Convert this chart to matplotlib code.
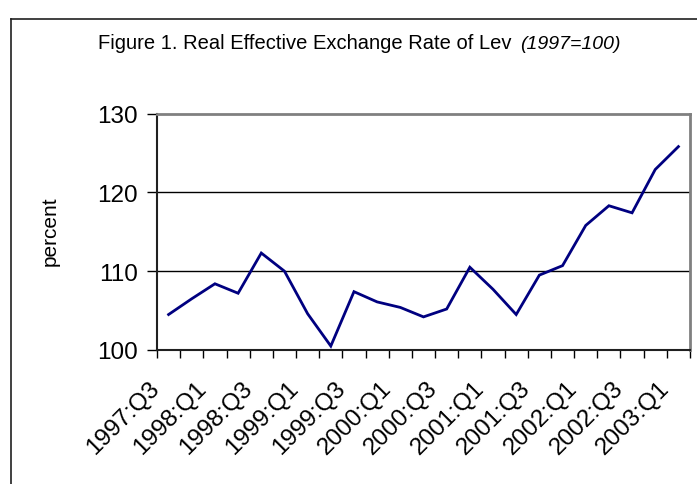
import numpy as np
import matplotlib
matplotlib.use("Agg")
import matplotlib.pyplot as plt
from matplotlib.lines import Line2D
from matplotlib.transforms import ScaledTranslation

# Quarterly REER of the lats (1997=100)
quarters = ["1997:Q3", "1997:Q4", "1998:Q1", "1998:Q2", "1998:Q3", "1998:Q4",
            "1999:Q1", "1999:Q2", "1999:Q3", "1999:Q4", "2000:Q1", "2000:Q2",
            "2000:Q3", "2000:Q4", "2001:Q1", "2001:Q2", "2001:Q3", "2001:Q4",
            "2002:Q1", "2002:Q2", "2002:Q3", "2002:Q4", "2003:Q1"]
reer = [104.5, 106.5, 108.4, 107.2, 112.3, 110.0, 104.6, 100.5, 107.4, 106.1,
        105.4, 104.2, 105.2, 110.5, 107.7, 104.5, 109.5, 110.7, 115.8, 118.3,
        117.4, 122.9, 125.8]
y_ticks = [100, 110, 120, 130]

plt.rcParams["font.family"] = ["Liberation Sans", "DejaVu Sans"]

W, H = 697, 485
fig = plt.figure(figsize=(W / 100, H / 100), dpi=100)
ax = fig.add_axes([157 / W, 1 - 351 / H, 533 / W, 236.5 / H])

x = np.arange(len(quarters))
ax.plot(x, reer, color="#000080", linewidth=2.0, solid_joinstyle="miter")

ax.set_xlim(-0.5, len(quarters) - 0.5)
ax.set_ylim(100, 130)
ax.set_yticks(y_ticks)
ax.set_yticklabels([str(v) for v in y_ticks], fontsize=17.5)
ax.tick_params(axis="y", direction="out", length=7, width=1, pad=7)

# category labels every other quarter, tick marks at category boundaries
ax.set_xticks(x[::2])
ax.set_xticklabels(quarters[::2], rotation=45, ha="right",
                   rotation_mode="anchor", fontsize=17.5)
ax.set_xticks(np.arange(-0.5, len(quarters)), minor=True)
ax.tick_params(axis="x", which="major", length=0, pad=19)
ax.tick_params(axis="x", which="minor", direction="out", length=6, width=1)
shift = ScaledTranslation(-0.2, 0, fig.dpi_scale_trans)
for lbl in ax.get_xticklabels():
    lbl.set_transform(lbl.get_transform() + shift)

for v in [110, 120]:
    ax.axhline(v, color="black", linewidth=1.0, zorder=0)

for s in ["left", "bottom"]:
    ax.spines[s].set_color("#202020")
    ax.spines[s].set_linewidth(1.5)
for s in ["top", "right"]:
    ax.spines[s].set_color("#808080")
    ax.spines[s].set_linewidth(2.0)

fig.text(50 / W, 1 - 231 / H, "percent", rotation=90, ha="center",
         va="center", fontsize=15)

fig.text(511 / W, 1 - 49 / H, "Figure 1. Real Effective Exchange Rate of Lev",
         ha="right", va="baseline", fontsize=14.5)
fig.text(520 / W, 1 - 49 / H, "(1997=100)", ha="left", va="baseline",
         fontsize=14, fontstyle="italic")

# outer frame (left and top edges visible)
fig.add_artist(Line2D([10.5 / W, 10.5 / W], [0, 1 - 20 / H],
                      transform=fig.transFigure, color="#202020", linewidth=1.2))
fig.add_artist(Line2D([10.5 / W, 1], [1 - 20 / H, 1 - 20 / H],
                      transform=fig.transFigure, color="#202020", linewidth=1.2))

fig.savefig("out.png", dpi=100)
